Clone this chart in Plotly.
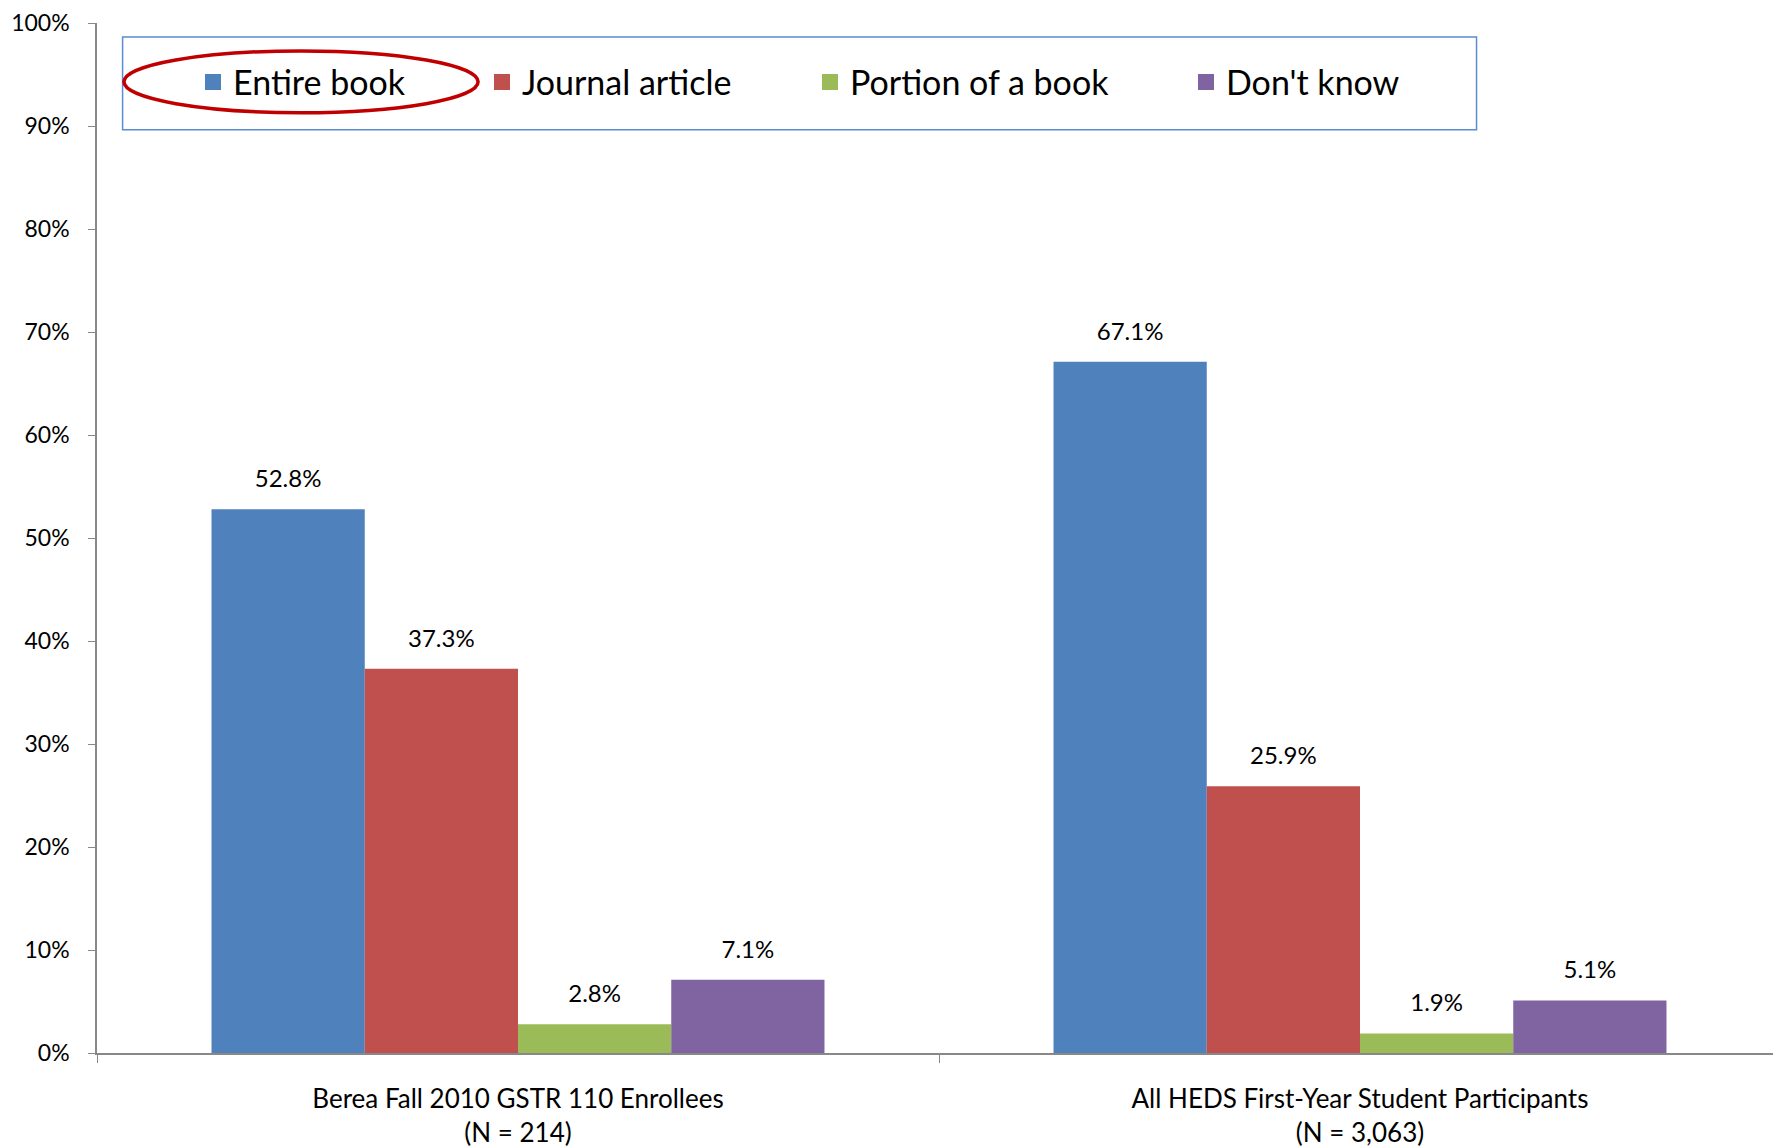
import plotly.graph_objects as go

categories = ["Berea Fall 2010 GSTR 110 Enrollees", "All HEDS First-Year Student Participants"]
sample_sizes = ["(N = 214)", "(N = 3,063)"]
series_names = ["Entire book", "Journal article", "Portion of a book", "Don't know"]
entire_book = [52.8, 67.1]
journal_article = [37.3, 25.9]
portion_of_book = [2.8, 1.9]
dont_know = [7.1, 5.1]
colors = ["#4F81BD", "#C0504D", "#9BBB59", "#8064A2"]
y_ticks = list(range(0, 101, 10))

FONT = "Lato, 'Open Sans', sans-serif"
series_values = [entire_book, journal_article, portion_of_book, dont_know]
tick_text = [f"{c}<br>{n}" for c, n in zip(categories, sample_sizes)]

fig = go.Figure()

for i, (name, vals, col) in enumerate(zip(series_names, series_values, colors)):
    fig.add_trace(go.Bar(
        x=categories, y=vals, name=name, marker_color=col, marker_line_width=0,
        offsetgroup=str(i), showlegend=False, hoverinfo="skip",
    ))
    # data labels, grouped like the bars
    fig.add_trace(go.Scatter(
        x=categories, y=vals, mode="markers+text", offsetgroup=str(i),
        marker=dict(size=24, opacity=0), text=[f"{v:.1f}%" for v in vals],
        textposition="top center", textfont=dict(size=24, color="black", family=FONT),
        showlegend=False, hoverinfo="skip", cliponaxis=False,
    ))

# one legend per entry so they can be spaced like the original
legend_x = [218, 507, 835, 1211]
plot_left, plot_w = 97, 1684
for i, (name, col) in enumerate(zip(series_names, colors)):
    key = "legend" if i == 0 else f"legend{i + 1}"
    fig.add_trace(go.Scatter(
        x=[None], y=[None], mode="markers", name=name, legend=key,
        marker=dict(symbol="square", size=16, color=col),
    ))
    fig.update_layout({key: dict(
        x=(legend_x[i] - 25 - plot_left) / plot_w, y=0.9424, xanchor="left", yanchor="middle",
        bgcolor="rgba(0,0,0,0)", borderwidth=0,
        font=dict(size=34, color="black", family=FONT),
    )})

# legend frame and the red highlight ellipse
fig.add_shape(type="rect", xref="paper", yref="paper",
              x0=0.0152, x1=0.8192, y0=0.8964, y1=0.9865,
              line=dict(color="#5B8BD0", width=1.5), fillcolor="rgba(0,0,0,0)")
fig.add_shape(type="circle", xref="paper", yref="paper",
              x0=0.016, x1=0.2263, y0=0.9129, y1=0.9729,
              line=dict(color="#C00000", width=3.5))

# page body has an 8px margin, so the figure is 8px smaller on each side
fig.update_layout(
    width=1773, height=1140,
    margin=dict(l=89, r=0, t=12, b=95),
    plot_bgcolor="white", paper_bgcolor="white",
    barmode="group", bargap=0.272, bargroupgap=0,
    scattermode="group", scattergap=0.272,
    font=dict(family=FONT, color="black"),
    xaxis=dict(
        tickvals=categories, ticktext=tick_text, tickfont=dict(size=26),
        showline=True, linecolor="#888888", linewidth=2,
        ticks="outside", tickson="boundaries", ticklen=8, tickcolor="#888888",
        ticklabelstandoff=22, showgrid=False,
    ),
    yaxis=dict(
        range=[0, 100], tickvals=y_ticks, ticktext=[f"{v}%" for v in y_ticks],
        tickfont=dict(size=23), ticklabeloverflow="allow",
        showline=True, linecolor="#888888", linewidth=1.5,
        ticks="outside", ticklen=7, tickcolor="#888888",
        ticklabelstandoff=14, showgrid=False, zeroline=False,
    ),
)

fig.write_html("out.html")
